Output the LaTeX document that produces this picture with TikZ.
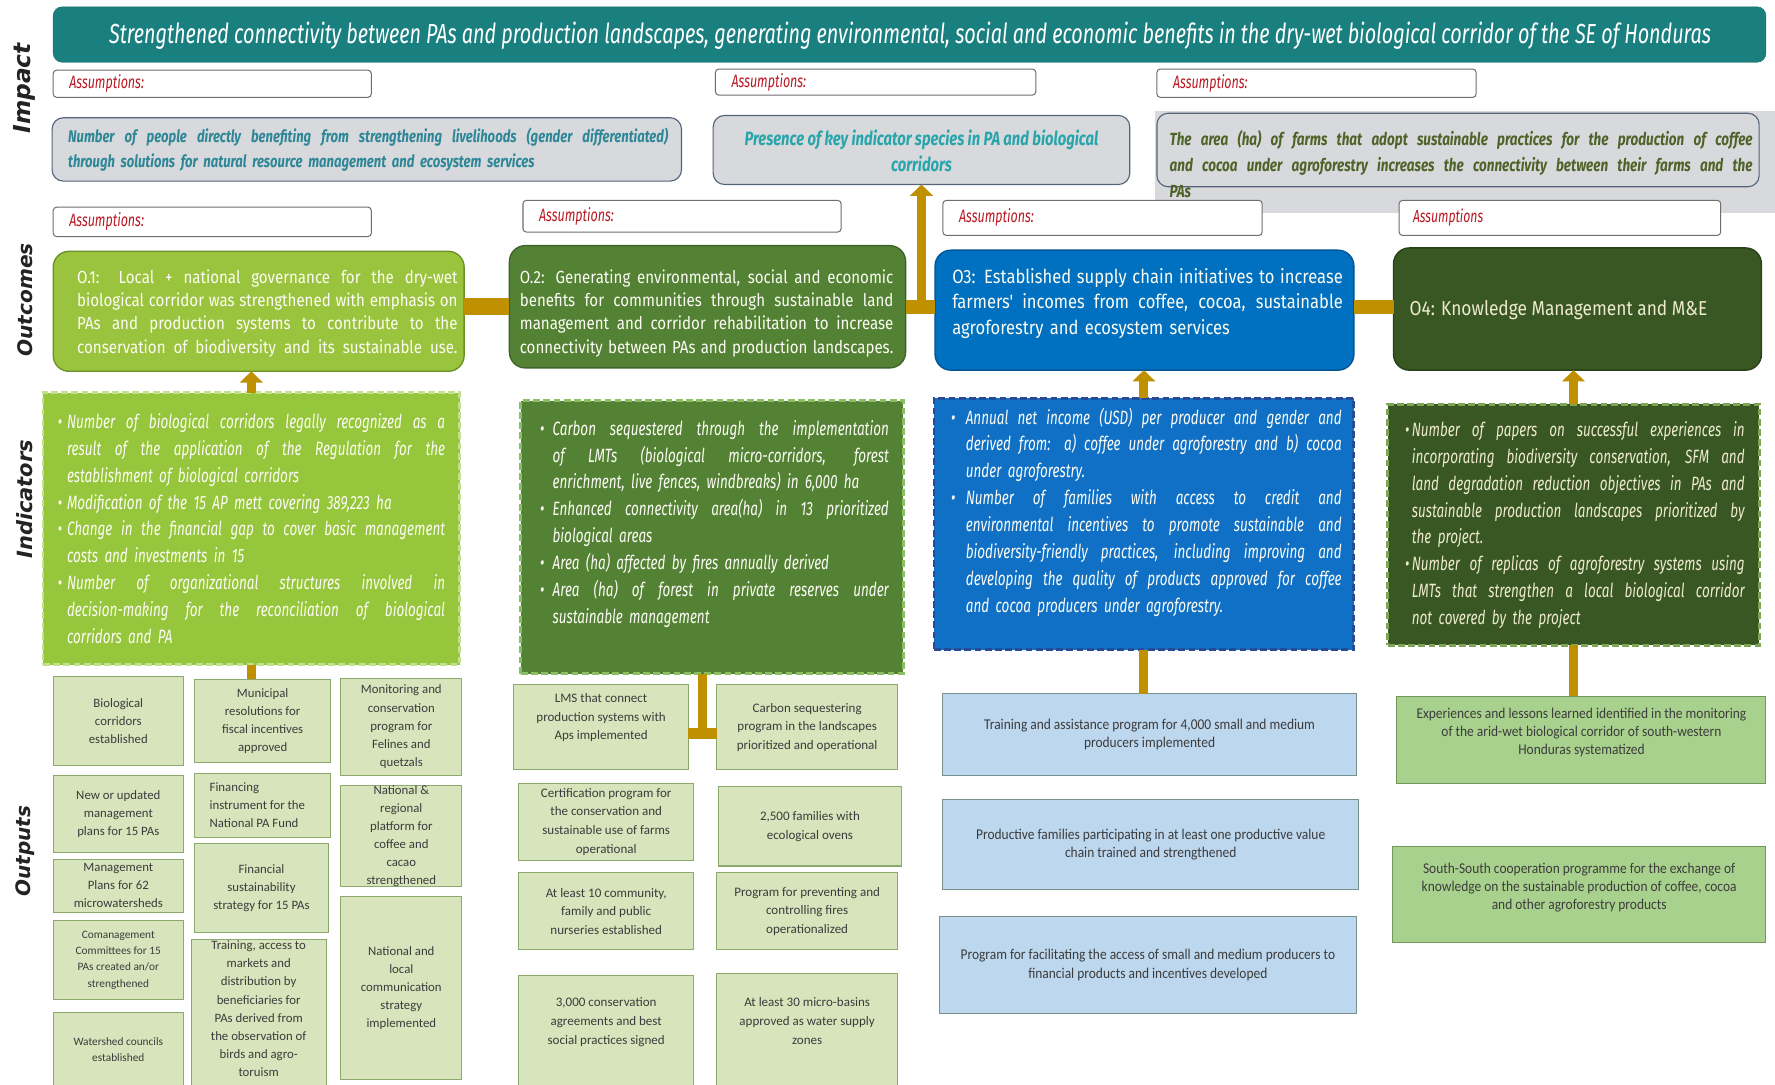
\documentclass[tikz,border=0pt]{standalone}
\usepackage{fontspec}
\usepackage{graphicx}
\usetikzlibrary{arrows.meta,calc}
\setmainfont{Fira Sans}
\newfontfamily\fT[FakeStretch=0.74]{Fira Sans}
\newfontfamily\fD[FakeStretch=0.70]{Fira Sans}
\newfontfamily\fO[FakeStretch=0.86]{Fira Sans}
\newfontfamily\fI[FakeStretch=0.77]{Fira Sans}
\newfontfamily\fC{Carlito}
\newfontfamily\fCn[FakeStretch=0.9]{Carlito}
\newfontfamily\fS{DejaVu Sans}

\definecolor{bannerc}{RGB}{26,128,127}
\definecolor{asmb}{RGB}{110,110,110}
\definecolor{asmred}{RGB}{185,25,35}
\definecolor{impg}{RGB}{216,217,221}
\definecolor{impbd}{RGB}{85,100,120}
\definecolor{i1c}{RGB}{45,135,150}
\definecolor{i2c}{RGB}{40,165,170}
\definecolor{i3c}{RGB}{79,98,40}
\definecolor{o1c}{RGB}{155,196,62}
\definecolor{o1d}{RGB}{105,145,40}
\definecolor{o2c}{RGB}{84,130,53}
\definecolor{o2d}{RGB}{60,100,40}
\definecolor{o3c}{RGB}{0,112,192}
\definecolor{o3d}{RGB}{0,85,150}
\definecolor{o4c}{RGB}{56,87,35}
\definecolor{o4d}{RGB}{40,65,25}
\definecolor{d1c}{RGB}{150,198,60}
\definecolor{d1d}{RGB}{195,225,140}
\definecolor{d2d}{RGB}{140,190,100}
\definecolor{d3c}{RGB}{16,112,198}
\definecolor{d3d}{RGB}{40,75,150}
\definecolor{d4d}{RGB}{125,165,85}
\definecolor{goldc}{RGB}{191,144,0}
\definecolor{obg}{RGB}{216,228,188}
\definecolor{obd}{RGB}{140,170,110}
\definecolor{bbg}{RGB}{189,215,238}
\definecolor{bbd}{RGB}{120,145,140}
\definecolor{gbg}{RGB}{169,209,142}
\definecolor{gbd}{RGB}{115,150,95}
\definecolor{otc}{RGB}{60,60,60}
\definecolor{sidec}{RGB}{35,35,35}
\definecolor{cream}{RGB}{238,234,205}
\definecolor{wtxt}{RGB}{252,252,244}

\newcommand\JL[2]{\makebox[#1][s]{\spaceskip=0pt\xspaceskip=0pt #2}}
\newcommand\LL[2]{\makebox[#1][l]{#2}}
\newcommand\mkbox[6]{%
 \pgfmathsetmacro\bw{#5-#3}\pgfmathsetmacro\bh{#6-#4}%
 \pgfmathsetmacro\bcx{(#3+#5)/2}\pgfmathsetmacro\bcy{(#4+#6)/2}%
 \node[#2, minimum width=\bw pt, minimum height=\bh pt, inner sep=0pt, outer sep=0pt] (#1) at (\bcx,\bcy) {};}
\newcommand\asmlab[1]{\textcolor{asmred}{\resizebox{#1}{!}{\fD\itshape\fontsize{13}{15}\selectfont Assumptions:}}}

\tikzset{
 asm/.style={draw=asmb, fill=white, rounded corners=3pt, line width=0.9pt},
 impb/.style={draw=impbd, fill=impg, rounded corners=10pt, line width=1pt},
 outc/.style={rounded corners=14pt, line width=1.2pt},
 indb/.style={line width=2.5pt, dash pattern=on 6pt off 3pt},
 goldline/.style={draw=goldc, line width=8pt},
 goldbar/.style={draw=goldc},
 goldarrow/.style={draw=goldc, line width=8pt, -{Triangle[width=20pt,length=10pt]}},
 ob/.style={fill=obg, draw=obd, line width=0.9pt},
 bb/.style={fill=bbg, draw=bbd, line width=0.9pt},
 gb/.style={fill=gbg, draw=gbd, line width=0.9pt},
 ot/.style={align=center, text=otc, inner sep=0pt, font=\fC\fontsize{11.3}{16}\selectfont},
 mt/.style={align=center, text=otc, inner sep=0pt, font=\fC\fontsize{11.5}{16.5}\selectfont},
 rt/.style={align=center, text=otc, inner sep=0pt, font=\fCn\fontsize{13.2}{16}\selectfont},
 side/.style={rotate=90, inner sep=0pt, text=sidec, font=\fS\bfseries\itshape},
 dtxt/.style={anchor=north west, inner sep=0pt, align=left, font=\fD\itshape\fontsize{17}{23.75}\selectfont},
 otxt/.style={anchor=north west, inner sep=0pt, align=left, font=\fO\fontsize{15.5}{20.6}\selectfont},
 itxt/.style={anchor=north west, inner sep=0pt, align=left, font=\fI\bfseries\itshape\fontsize{15}{21.5}\selectfont},
}

\begin{document}
\begin{tikzpicture}[x=1pt,y=-1pt]
\useasboundingbox[fill=white] (0,0) rectangle (1568,958);

% side labels
\node[side] (sImpact) at (22,78) {\resizebox{80pt}{!}{Impact}};
\node[side] (sOutcomes) at (22,265) {\resizebox{100pt}{!}{Outcomes}};
\node[side] (sIndicators) at (22,441) {\resizebox{105pt}{!}{Indicators}};
\node[side] (sOutputs) at (22,752) {\resizebox{80pt}{!}{Outputs}};

% banner
\mkbox{ban}{draw=bannerc!85!black, fill=bannerc, rounded corners=8pt}{47}{6}{1560}{55}
\node[text=white, inner sep=0pt] (bant) at (804,31.5) {\resizebox{1415pt}{19pt}{\fT\itshape\fontsize{22}{26}\selectfont Strengthened connectivity between PAs and production landscapes, generating environmental, social and economic benefits in the dry-wet biological corridor of the SE of Honduras}};

% impact assumptions
\mkbox{a1}{asm}{47}{62}{328}{86}
\mkbox{a2}{asm}{632}{61}{915}{84}
\mkbox{a3}{asm}{1022}{61}{1304}{86}
\node[anchor=west, inner sep=0pt] (a1t) at ($(a1.west)+(14,0)$) {\asmlab{66pt}};
\node[anchor=west, inner sep=0pt] (a2t) at ($(a2.west)+(14,0)$) {\asmlab{66pt}};
\node[anchor=west, inner sep=0pt] (a3t) at ($(a3.west)+(14,0)$) {\asmlab{66pt}};

% impact indicators
\mkbox{i3bg}{fill=impg}{1020}{98}{1568}{188}
\mkbox{i1}{impb}{46}{104}{602}{160}
\mkbox{i2}{impb}{630}{102}{998}{163}
\mkbox{i3}{impb}{1022}{100}{1554}{165}
\node[itxt, text=i1c, text width=530pt] (i1t) at (60,113) {%
\JL{530pt}{Number of people directly benefiting from strengthening livelihoods (gender differentiated)}\\
\LL{530pt}{through solutions for natural resource management and ecosystem services}};
\node[align=center, inner sep=0pt, text=i2c, font=\fI\bfseries\itshape\fontsize{17}{23}\selectfont] (i2t) at (814,133.5) {Presence of key indicator species in PA and biological\\corridors};
\node[itxt, text=i3c, text width=515pt, font=\fI\bfseries\itshape\fontsize{15.5}{23}\selectfont] (i3t) at (1033,115) {%
\JL{515pt}{The area (ha) of farms that adopt sustainable practices for the production of coffee}\\
\JL{515pt}{and cocoa under agroforestry increases the connectivity between their farms and the}\\
\LL{515pt}{PAs}};

% outcome assumptions
\mkbox{b1}{asm}{47}{183}{328}{209}
\mkbox{b2}{asm}{462}{177}{743}{205}
\mkbox{b3}{asm}{833}{177}{1115}{208}
\mkbox{b4}{asm}{1236}{177}{1520}{208}
\node[anchor=west, inner sep=0pt] (b1t) at ($(b1.west)+(14,0)$) {\asmlab{66pt}};
\node[anchor=west, inner sep=0pt] (b2t) at ($(b2.west)+(14,0)$) {\asmlab{66pt}};
\node[anchor=west, inner sep=0pt] (b3t) at ($(b3.west)+(14,0)$) {\asmlab{66pt}};
\node[anchor=west, inner sep=0pt] (b4t) at ($(b4.west)+(12,0)$) {\textcolor{asmred}{\resizebox{62pt}{!}{\fD\itshape\fontsize{13}{15}\selectfont Assumptions}}};

% outcomes
\mkbox{o1}{outc, fill=o1c, draw=o1d}{47}{222}{410}{328}
\mkbox{o2}{outc, fill=o2c, draw=o2d}{450}{217}{800}{325}
\mkbox{o3}{outc, fill=o3c, draw=o3d}{826}{221}{1196}{327}
\mkbox{o4}{outc, fill=o4c, draw=o4d}{1231}{219}{1556}{327}

\draw[goldbar, line width=15pt] (o1.east |- o2.west) -- (o2.west);
\draw[goldbar, line width=12pt] (o2.east) -- (o3.west |- o2.east);
\draw[goldbar, line width=12pt] (o3.east |- o2.east) -- (o4.west |- o2.east);
\draw[goldarrow] (i2.south |- o2.east) -- (i2.south);

\node[otxt, text=wtxt, text width=336pt] (o1t) at (68,238) {%
\JL{336pt}{O.1: Local + national governance for the dry-wet}\\
\JL{336pt}{biological corridor was strengthened with emphasis on}\\
\JL{336pt}{PAs and production systems to contribute to the}\\
\JL{336pt}{conservation of biodiversity and its sustainable use.}};
\node[otxt, text=wtxt, text width=330pt] (o2t) at (459,238) {%
\JL{330pt}{O.2: Generating environmental, social and economic}\\
\JL{330pt}{benefits for communities through sustainable land}\\
\JL{330pt}{management and corridor rehabilitation to increase}\\
\JL{330pt}{connectivity between PAs and production landscapes.}};
\node[otxt, text=wtxt, text width=345pt, font=\fO\fontsize{17}{22.5}\selectfont] (o3t) at (841,237) {%
\JL{345pt}{O3: Established supply chain initiatives to increase}\\
\JL{345pt}{farmers' incomes from coffee, cocoa, sustainable}\\
\LL{345pt}{agroforestry and ecosystem services}};
\node[anchor=west, inner sep=0pt, text=cream] (o4t) at (1245,274) {\resizebox{263pt}{!}{\fO\fontsize{19}{22}\selectfont O4: Knowledge Management and M\&E}};

% indicators
\mkbox{d1}{fill=d1c, draw=d1d, indb}{38}{347}{406}{587}
\mkbox{d2}{fill=o2c, draw=d2d, indb}{460}{354}{798}{595}
\mkbox{d3}{fill=d3c, draw=d3d, indb}{825}{352}{1196}{574}
\mkbox{d4}{fill=o4c, draw=d4d, indb}{1226}{357}{1554}{570}

\draw[goldarrow] (d1.north) -- (d1.north |- o1.south);
\draw[goldarrow] (d3.north) -- (d3.north |- o3.south);
\draw[goldarrow] (d4.north) -- (d4.north |- o4.south);

\node[dtxt, text=wtxt, text width=342pt] (d1t) at (51,365) {%
\makebox[8pt][l]{•}\JL{334pt}{Number of biological corridors legally recognized as a}\\
\hspace*{8pt}\JL{334pt}{result of the application of the Regulation for the}\\
\hspace*{8pt}\LL{334pt}{establishment of biological corridors}\\
\makebox[8pt][l]{•}\LL{334pt}{Modification of the 15 AP mett covering 389,223 ha}\\
\makebox[8pt][l]{•}\JL{334pt}{Change in the financial gap to cover basic management}\\
\hspace*{8pt}\LL{334pt}{costs and investments in 15}\\
\makebox[8pt][l]{•}\JL{334pt}{Number of organizational structures involved in}\\
\hspace*{8pt}\JL{334pt}{decision-making for the reconciliation of biological}\\
\hspace*{8pt}\LL{334pt}{corridors and PA}};

\node[dtxt, text=wtxt, text width=308pt] (d2t) at (477,371) {%
\makebox[11pt][l]{•}\JL{297pt}{Carbon sequestered through the implementation}\\
\hspace*{11pt}\JL{297pt}{of LMTs (biological micro-corridors, forest}\\
\hspace*{11pt}\LL{297pt}{enrichment, live fences, windbreaks) in 6,000 ha}\\
\makebox[11pt][l]{•}\JL{297pt}{Enhanced connectivity area(ha) in 13 prioritized}\\
\hspace*{11pt}\LL{297pt}{biological areas}\\
\makebox[11pt][l]{•}\LL{297pt}{Area (ha) affected by fires annually derived}\\
\makebox[11pt][l]{•}\JL{297pt}{Area (ha) of forest in private reserves under}\\
\hspace*{11pt}\LL{297pt}{sustainable management}};

\node[dtxt, text=wtxt, text width=345pt] (d3t) at (840,360) {%
\makebox[13pt][l]{•}\JL{332pt}{Annual net income (USD) per producer and gender and}\\
\hspace*{13pt}\JL{332pt}{derived from: a) coffee under agroforestry and b) cocoa}\\
\hspace*{13pt}\LL{332pt}{under agroforestry.}\\
\makebox[13pt][l]{•}\JL{332pt}{Number of families with access to credit and}\\
\hspace*{13pt}\JL{332pt}{environmental incentives to promote sustainable and}\\
\hspace*{13pt}\JL{332pt}{biodiversity-friendly practices, including improving and}\\
\hspace*{13pt}\JL{332pt}{developing the quality of products approved for coffee}\\
\hspace*{13pt}\LL{332pt}{and cocoa producers under agroforestry.}};

\node[dtxt, text=cream, text width=300pt] (d4t) at (1241,372) {%
\makebox[6pt][l]{•}\JL{294pt}{Number of papers on successful experiences in}\\
\hspace*{6pt}\JL{294pt}{incorporating biodiversity conservation, SFM and}\\
\hspace*{6pt}\JL{294pt}{land degradation reduction objectives in PAs and}\\
\hspace*{6pt}\JL{294pt}{sustainable production landscapes prioritized by}\\
\hspace*{6pt}\LL{294pt}{the project.}\\
\makebox[6pt][l]{•}\JL{294pt}{Number of replicas of agroforestry systems using}\\
\hspace*{6pt}\JL{294pt}{LMTs that strengthen a local biological corridor}\\
\hspace*{6pt}\LL{294pt}{not covered by the project}};

% outputs column 1
\mkbox{b11}{ob}{47}{598}{162}{676}
\mkbox{b12}{ob}{47}{685}{162}{753}
\mkbox{b13}{ob}{47}{759}{162}{806}
\mkbox{b14}{ob}{47}{813}{162}{883}
\mkbox{b15}{ob}{47}{894}{162}{970}
\node[ot] (b11t) at (b11.center) {Biological\\corridors\\established};
\node[ot] (b12t) at (b12.center) {New or updated\\management\\plans for 15 PAs};
\node[ot] (b13t) at (b13.center) {Management\\Plans for 62\\microwatersheds};
\node[ot, font=\fC\fontsize{10}{14.5}\selectfont] (b14t) at (b14.center) {Comanagement\\Committees for 15\\PAs created an/or\\strengthened};
\node[ot, font=\fC\fontsize{10}{14.5}\selectfont] (b15t) at ($(b15.center)+(0,-5)$) {Watershed councils\\established};
% column 2
\mkbox{b21}{ob}{172}{600}{292}{674}
\mkbox{b22}{ob}{172}{683}{292}{740}
\mkbox{b23}{ob}{172}{745}{290}{824}
\mkbox{b24}{ob}{169}{830}{288}{975}
\node[ot] (b21t) at (b21.center) {Municipal\\resolutions for\\fiscal incentives\\approved};
\node[ot, align=left, anchor=west] (b22t) at (185,711) {Financing\\instrument for the\\National PA Fund};
\node[ot] (b23t) at (b23.center) {Financial\\sustainability\\strategy for 15 PAs};
\node[ot, anchor=north] (b24t) at ($(b24.north)+(0,1)$) {Training, access to\\markets and\\distribution by\\beneficiaries for\\PAs derived from\\the observation of\\birds and agro-\\toruism};
% column 3
\mkbox{b31}{ob}{301}{599}{408}{685}
\mkbox{b32}{ob}{301}{694}{408}{783}
\mkbox{b33}{ob}{301}{792}{408}{954}
\node[ot] (b31t) at (b31.center) {Monitoring and\\conservation\\program for\\Felines and\\quetzals};
\node[ot] (b32t) at (b32.center) {National \&\\regional\\platform for\\coffee and\\cacao\\strengthened};
\node[ot] (b33t) at (b33.center) {National and\\local\\communication\\strategy\\implemented};

\draw[goldline] (d1.south) -- (d1.south |- b21.north);

% middle outputs
\mkbox{m11}{ob}{454}{605}{608}{680}
\mkbox{m12}{ob}{633}{605}{793}{680}
\mkbox{m21}{ob}{458}{692}{613}{760}
\mkbox{m22}{ob}{635}{695}{796}{765}
\mkbox{m31}{ob}{458}{771}{613}{839}
\mkbox{m32}{ob}{633}{771}{793}{839}
\mkbox{m41}{ob}{458}{862}{613}{975}
\mkbox{m42}{ob}{633}{860}{793}{975}
\node[mt] (m11t) at ($(m11.center)+(0,-8.5)$) {LMS that connect\\production systems with\\Aps implemented};
\node[mt] (m12t) at (m12.center) {Carbon sequestering\\program in the landscapes\\prioritized and operational};
\node[mt] (m21t) at (m21.center) {Certification program for\\the conservation and\\sustainable use of farms\\operational};
\node[mt] (m22t) at (m22.center) {2,500 families with\\ecological ovens};
\node[mt] (m31t) at (m31.center) {At least 10 community,\\family and public\\nurseries established};
\node[mt] (m32t) at (m32.center) {Program for preventing and\\controlling fires\\operationalized};
\node[mt] (m41t) at ($(m41.center)+(0,-15.5)$) {3,000 conservation\\agreements and best\\social practices signed};
\node[mt] (m42t) at ($(m42.center)+(0,-15.5)$) {At least 30 micro-basins\\approved as water supply\\zones};

\coordinate (t2) at ($(m11.east)!0.5!(m12.west)+(0,5.5)$);
\draw[goldline] (t2 |- d2.south) -- (t2);
\draw[goldbar, line width=10pt] (m11.east |- t2) -- (m12.west |- t2);

% right outputs
\mkbox{r1}{bb}{833}{613}{1198}{685}
\mkbox{r2}{bb}{833}{706}{1200}{786}
\mkbox{r3}{bb}{830}{810}{1198}{895}
\mkbox{g1}{gb}{1234}{615}{1560}{692}
\mkbox{g2}{gb}{1230}{748}{1560}{833}
\node[rt] (r1t) at (r1.center) {Training and assistance program for 4,000 small and medium\\producers implemented};
\node[rt] (r2t) at (r2.center) {Productive families participating in at least one productive value\\chain trained and strengthened};
\node[rt] (r3t) at (r3.center) {Program for facilitating the access of small and medium producers to\\financial products and incentives developed};
\node[rt] (g1t) at ($(g1.center)+(0,-6.5)$) {Experiences and lessons learned identified in the monitoring\\of the arid-wet biological corridor of south-western\\Honduras systematized};
\node[rt] (g2t) at ($(g2.center)+(0,-6.5)$) {South-South cooperation programme for the exchange of\\knowledge on the sustainable production of coffee, cocoa\\and other agroforestry products};

\draw[goldline] (d3.south) -- (d3.south |- r1.north);
\draw[goldline] (d4.south) -- (d4.south |- g1.north);
\end{tikzpicture}
\end{document}
